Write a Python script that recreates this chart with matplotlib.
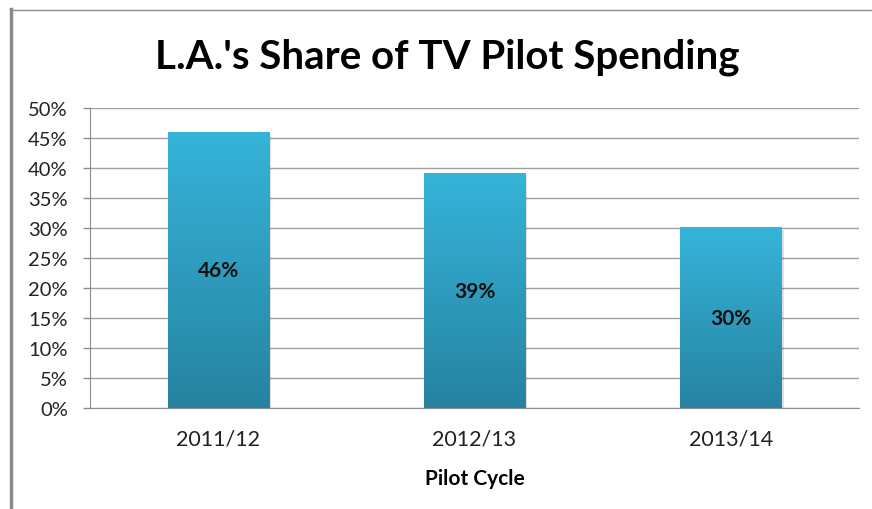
import numpy as np
import matplotlib
matplotlib.use("Agg")
import matplotlib.pyplot as plt
from matplotlib.colors import LinearSegmentedColormap
from matplotlib.patches import Rectangle
from matplotlib.lines import Line2D

categories = ["2011/12", "2012/13", "2013/14"]
values = [46, 39, 30]
yticks = [0, 5, 10, 15, 20, 25, 30, 35, 40, 45, 50]
title = "L.A.'s Share of TV Pilot Spending"
xlabel = "Pilot Cycle"

plt.rcParams['font.family'] = ['Lato', 'DejaVu Sans']

fig = plt.figure(figsize=(8.72, 5.10), dpi=100)
W, H = 872, 510
ax = fig.add_axes([90 / W, 1 - 409 / H, (859 - 90) / W, 300 / H])

x = np.arange(len(categories))
bars = ax.bar(x, values, width=0.395, color='none', zorder=3)
cmap = LinearSegmentedColormap.from_list('g', ['#2683A0', '#36B4DA'])
grad = np.linspace(0, 1, 256).reshape(-1, 1)
for b in bars:
    x0, y0, w, h = b.get_x(), b.get_y(), b.get_width(), b.get_height()
    sh = Rectangle((x0 + 0.008, y0 - 0.35), w, h, color='#000000', alpha=0.12, zorder=2, lw=0)
    ax.add_patch(sh)
    ax.imshow(grad, extent=(x0, x0 + w, y0, y0 + h), origin='lower', cmap=cmap,
              aspect='auto', zorder=3)
    ax.text(x0 + w / 2, y0 + h / 2, f"{int(h)}%", ha='center', va='center',
            fontsize=15, fontweight='bold', color='#111111', zorder=4)

ax.set_xlim(-0.5, len(categories) - 0.5)
ax.set_ylim(0, 50)
ax.set_yticks(yticks)
ax.set_yticklabels([f"{t}%" for t in yticks], fontsize=14.5, color='#222222')
ax.set_xticks(x)
ax.set_xticklabels(categories, fontsize=15.5, color='#222222')
ax.tick_params(axis='x', length=0, pad=15)
ax.tick_params(axis='y', length=5, color='#8c8c8c', width=1, pad=11)
ax.yaxis.grid(True, color='#a0a0a0', linewidth=1, zorder=0)
ax.set_axisbelow(True)
for s in ['top', 'right']:
    ax.spines[s].set_visible(False)
ax.spines['left'].set_color('#8c8c8c')
ax.spines['bottom'].set_color('#8c8c8c')
ax.set_xlabel(xlabel, fontsize=15, fontweight='bold', labelpad=14)

fig.text(447 / W, 1 - 57 / H, title, ha='center', va='center', fontsize=29,
         fontweight='bold', color='#000000')

fig.add_artist(Line2D([11 / W, 11 / W], [0, 1 - 10 / H], transform=fig.transFigure,
                      color='#8a8a8a', lw=2.5))
fig.add_artist(Line2D([10 / W, 1], [1 - 10.5 / H, 1 - 10.5 / H], transform=fig.transFigure,
                      color='#8a8a8a', lw=1))

fig.savefig('out.png', dpi=100)
